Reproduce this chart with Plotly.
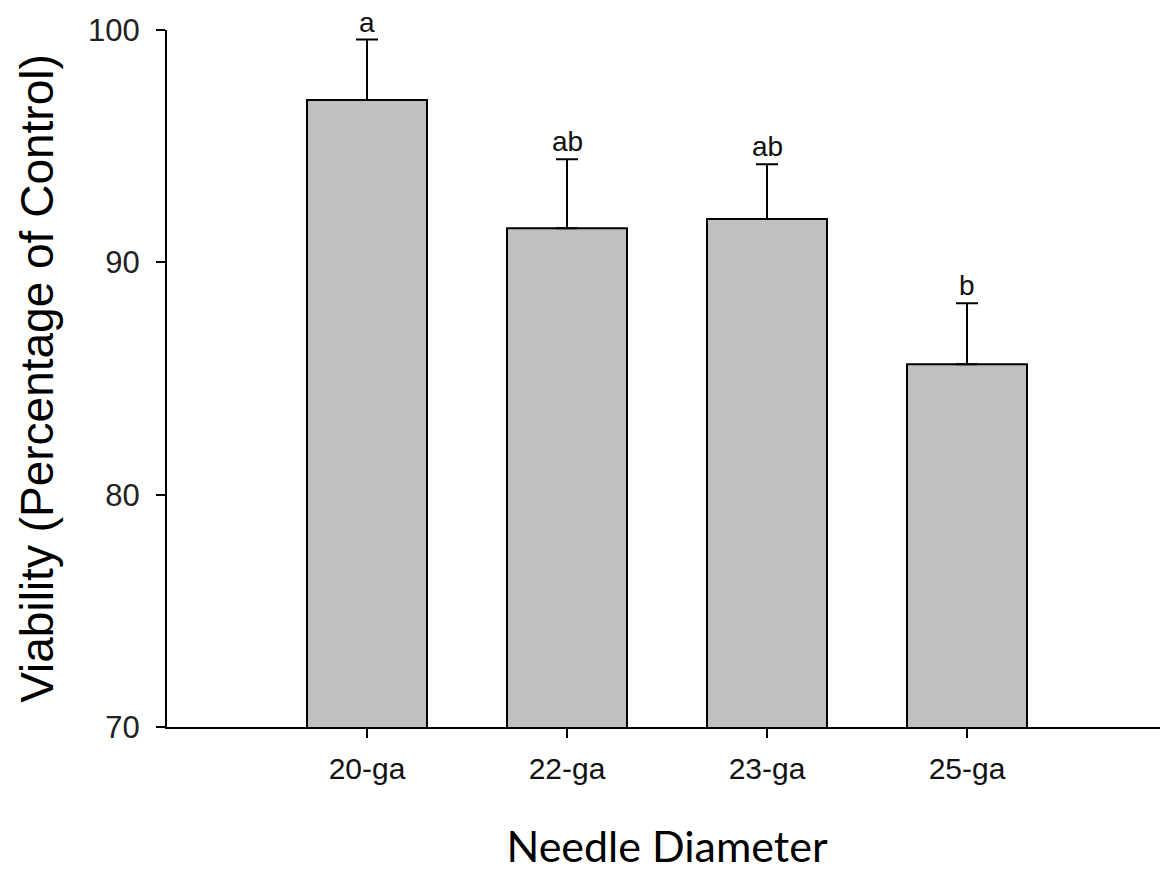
import plotly.graph_objects as go

categories = ["20-ga", "22-ga", "23-ga", "25-ga"]
viability = [96.99, 91.47, 91.86, 85.61]
errors = [2.6, 2.97, 2.36, 2.63]
letters = ["a", "ab", "ab", "b"]
y_ticks = [70, 80, 90, 100]

fig = go.Figure()
fig.add_trace(go.Bar(
    x=categories, y=viability,
    width=0.6,
    marker=dict(color="#c0c0c0", line=dict(color="black", width=2)),
    error_y=dict(type="data", array=errors, symmetric=False, arrayminus=[0]*len(errors),
                 color="black", thickness=2, width=11),
))

for c, v, e, l in zip(categories, viability, errors, letters):
    fig.add_annotation(x=c, y=v + e, text=l, showarrow=False, yanchor="bottom",
                       yshift=1, borderpad=0,
                       font=dict(family="Liberation Sans, Arial", size=28, color="#111111"))

fig.update_layout(
    width=1160, height=863,
    margin=dict(l=159, r=1, t=22, b=144),
    plot_bgcolor="white", paper_bgcolor="white",
    showlegend=False,
)
fig.update_xaxes(
    type="category", categoryorder="array", categoryarray=categories,
    range=[-1, 4],
    showline=True, linecolor="black", linewidth=2,
    ticks="outside", ticklen=9, tickwidth=1.5, tickcolor="black",
    ticklabelstandoff=5,
    tickfont=dict(family="Liberation Sans, Arial", size=30, color="#111111"),
    showgrid=False, zeroline=False,
    title=dict(text="Needle Diameter", font=dict(family="Lato, Noto Sans", size=43, color="black"), standoff=50),
)
fig.update_yaxes(
    range=[70, 100], tickvals=y_ticks,
    showline=True, linecolor="black", linewidth=2,
    ticks="outside", ticklen=9, tickwidth=1.5, tickcolor="black",
    ticklabelstandoff=10,
    tickfont=dict(family="Liberation Sans, Arial", size=31, color="#222222"),
    showgrid=False, zeroline=False,
    title=dict(text="Viability (Percentage of Control)", font=dict(family="Liberation Sans, Arial", size=46, color="black"), standoff=20),
)

fig.write_html("out.html")
